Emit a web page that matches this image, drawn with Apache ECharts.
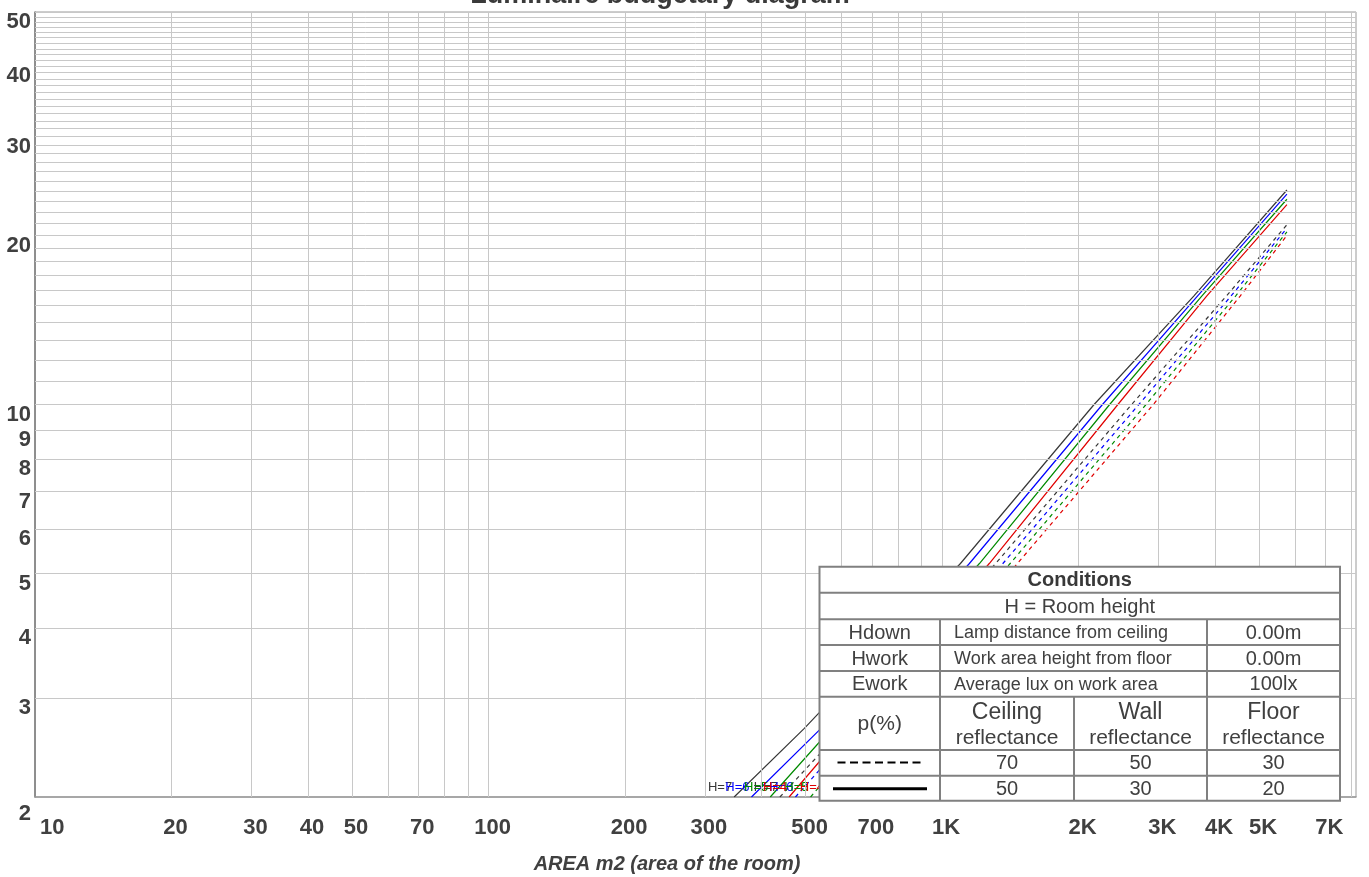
<!DOCTYPE html>
<html>
<head>
<meta charset="utf-8">
<script src="https://cdn.jsdelivr.net/npm/echarts@6/dist/echarts.min.js"></script>
<style>html,body{margin:0;padding:0;background:#fff}#c{width:1369px;height:877px}</style>
</head>
<body>
<div id="c"></div>
<script>
// ---------------- data ----------------
const chartTitle = 'Luminaire budgetary diagram';
const xAxisName = 'AREA m2 (area of the room)';
const xMin = 10, xMax = 8180, yMin = 2, yMax = 50;

const xTickValues = [10, 20, 30, 40, 50, 70, 100, 200, 300, 500, 700, 1000, 2000, 3000, 4000, 5000, 7000];
const xTickLabels = ['10', '20', '30', '40', '50', '70', '100', '200', '300', '500', '700', '1K', '2K', '3K', '4K', '5K', '7K'];
const yTickValues = [2, 3, 4, 5, 6, 7, 8, 9, 10, 20, 30, 40, 50];
const yTickLabels = ['2', '3', '4', '5', '6', '7', '8', '9', '10', '20', '30', '40', '50'];

const xGridValues = [20, 30, 40, 50, 60, 70, 80, 90, 100, 200, 300, 400, 500, 600, 700, 800, 900, 1000, 2000, 3000, 4000, 5000, 6000, 7000, 8000];
const yGridValues = [3, 4, 5, 6, 7, 8, 9, 10, 11, 12, 13, 14, 15, 16, 17, 18, 19, 20, 21, 22, 23, 24, 25, 26, 27, 28, 29, 30,
  31, 32, 33, 34, 35, 36, 37, 38, 39, 40, 41, 42, 43, 44, 45, 46, 47, 48, 49, 50];

const heightNames = ['H=7', 'H=6', 'H=5', 'H=4'];

// solid: reflectance 50/30/20 ; dashed: reflectance 70/50/30   [area m2, value]
const solid_H7 = [[348, 2], [497, 2.65], [1098, 5.21], [2164, 10], [3589, 15.6], [5760, 24.1]];
const solid_H6 = [[380, 2], [541, 2.65], [1149, 5.21], [2258, 10], [3657, 15.6], [5760, 23.7]];
const solid_H5 = [[418, 2], [1209, 5.21], [2342, 10], [3738, 15.6], [5760, 23.2]];
const solid_H4 = [[460, 2], [1271, 5.21], [2442, 10], [3832, 15.6], [5760, 22.7]];
const dashed_H7 = [[439, 2], [1313, 5.21], [2618, 10], [4236, 15.6], [5760, 20.9]];
const dashed_H6 = [[475, 2], [1362, 5.21], [2716, 10], [4336, 15.6], [5760, 20.6]];
const dashed_H5 = [[513, 2], [1413, 5.21], [2817, 10], [4438, 15.6], [5760, 20.3]];
const dashed_H4 = [[555, 2], [1466, 5.21], [2923, 10], [4543, 15.6], [5760, 20.0]];

const tableTitle = 'Conditions';
const tableSubtitle = 'H = Room height';
const condKeys = ['Hdown', 'Hwork', 'Ework'];
const condDesc = ['Lamp distance from ceiling', 'Work area height from floor', 'Average lux on work area'];
const condValues = ['0.00m', '0.00m', '100lx'];
const reflHeader = ['p(%)', 'Ceiling', 'Wall', 'Floor'];
const reflDashed = ['70', '50', '30'];
const reflSolid = ['50', '30', '20'];

// ---------------- styles ----------------
const FONT = "'Liberation Sans', Arial, sans-serif";
const lineColors = ['#383838', '#0000ff', '#008a00', '#e00000'];
const TXT = '#404040';

function lineSeries(name, data, color, dashed) {
  return {
    type: 'line', name: name, animation: false, silent: true, z: 3,
    symbol: 'circle', symbolSize: 0, showSymbol: true,
    itemStyle: {color: color},
    lineStyle: {color: color, width: 1.2, type: dashed ? [4, 4] : 'solid'},
    data: data.map((p, i) => i === 0
      ? {value: p, label: {show: true, position: 'left', distance: 2, offset: [0, -10], formatter: name,
          color: color, fontSize: 13, fontFamily: FONT}}
      : {value: p})
  };
}

const solids = [solid_H7, solid_H6, solid_H5, solid_H4];
const dashes = [dashed_H7, dashed_H6, dashed_H5, dashed_H4];
const series = [];
series.push({
  type: 'line', data: [], silent: true, z: 1, animation: false,
  markLine: {
    silent: true, animation: false, symbol: ['none', 'none'], label: {show: false},
    lineStyle: {color: '#c8c8c8', width: 1, type: 'solid'},
    emphasis: {disabled: true},
    data: xGridValues.map(v => ({xAxis: v})).concat(yGridValues.map(v => ({yAxis: v})))
  }
});
dashes.forEach((d, i) => series.push(lineSeries(heightNames[i], d, lineColors[i], true)));
solids.forEach((d, i) => series.push(lineSeries(heightNames[i], d, lineColors[i], false)));

const option = {
  animation: false,
  backgroundColor: '#ffffff',
  grid: {left: 35, right: 13, top: 12, bottom: 80, show: true, borderColor: '#9a9a9a', borderWidth: 1, backgroundColor: 'transparent'},
  xAxis: {
    type: 'log', logBase: 10, min: xMin, max: xMax,
    axisLine: {show: true, lineStyle: {color: '#9a9a9a', width: 1.5}},
    axisTick: {show: false}, axisLabel: {show: false}, splitLine: {show: false}
  },
  yAxis: {
    type: 'log', logBase: 10, min: yMin, max: yMax,
    axisLine: {show: true, lineStyle: {color: '#7a7a7a', width: 1.5}},
    axisTick: {show: false}, axisLabel: {show: false}, splitLine: {show: false}
  },
  series: series
};

const chart = echarts.init(document.getElementById('c'), null, {renderer: 'canvas'});
chart.setOption(option);

// ---------------- text + table via graphic ----------------
function txt(x, y, text, size, opts) {
  opts = opts || {};
  const align = opts.align || 'center';
  const va = opts.va || 'middle';
  return {
    type: 'text', x: x, y: y, z: opts.z || 50, silent: true,
    style: {
      text: text, fill: opts.color || TXT,
      font: (opts.style || '') + ' ' + (opts.weight || 'normal') + ' ' + size + 'px ' + FONT,
      align: align, textAlign: align, verticalAlign: va, textVerticalAlign: va
    }
  };
}

const g = [];
// title (partly above the canvas)
g.push(txt(660, -4.5, chartTitle, 27, {weight: 'bold', color: '#3a3a3a'}));
// x tick labels
xTickValues.forEach((v, i) => {
  const p = chart.convertToPixel({gridIndex: 0}, [v, yMin]);
  if (i === 0) g.push(txt(p[0] + 5, 828, xTickLabels[i], 22, {weight: 'bold', align: 'left'}));
  else g.push(txt(p[0] + 4, 828, xTickLabels[i], 22, {weight: 'bold'}));
});
// y tick labels (lowest one pushed a little lower)
yTickValues.forEach((v, i) => {
  const p = chart.convertToPixel({gridIndex: 0}, [xMin, v]);
  const dy = i === 0 ? 6 : -1;
  g.push(txt(31, p[1] + dy, yTickLabels[i], 22, {weight: 'bold', align: 'right', va: 'top'}));
});
// axis name
g.push(txt(667, 864, xAxisName, 20, {weight: 'bold', style: 'italic'}));

// conditions table
const T = {l: 819.5, r: 1340, t: 566.7, b: 800.7};
const rowsY = [566.7, 592.7, 619.3, 645, 671, 696.7, 750, 775.7, 800.7];
const c1 = 940, c2 = 1074, c3 = 1207;
const tbl = [];
const stroke = '#808080';
tbl.push({type: 'rect', shape: {x: T.l, y: T.t, width: T.r - T.l, height: T.b - T.t},
  style: {fill: '#ffffff', stroke: stroke, lineWidth: 2}});
function hl(y) { tbl.push({type: 'line', shape: {x1: T.l, y1: y, x2: T.r, y2: y}, style: {stroke: stroke, lineWidth: 2}}); }
function vl(x, y1, y2) { tbl.push({type: 'line', shape: {x1: x, y1: y1, x2: x, y2: y2}, style: {stroke: stroke, lineWidth: 2}}); }
for (let i = 1; i < rowsY.length - 1; i++) hl(rowsY[i]);
vl(c1, rowsY[2], T.b); vl(c3, rowsY[2], T.b); vl(c2, rowsY[5], T.b);
const mid = i => (rowsY[i] + rowsY[i + 1]) / 2 + 1;
const cx0 = (T.l + c1) / 2, cxA = (c1 + c2) / 2, cxB = (c2 + c3) / 2, cxC = (c3 + T.r) / 2;
tbl.push(txt((T.l + T.r) / 2, mid(0), tableTitle, 20, {weight: 'bold', color: '#383838'}));
tbl.push(txt((T.l + T.r) / 2, mid(1), tableSubtitle, 20));
for (let k = 0; k < 3; k++) {
  tbl.push(txt(cx0, mid(2 + k), condKeys[k], 20));
  tbl.push(txt(954, mid(2 + k), condDesc[k], 18, {align: 'left'}));
  tbl.push(txt(cxC, mid(2 + k), condValues[k], 20));
}
tbl.push(txt(cx0, mid(5), reflHeader[0], 21));
[cxA, cxB, cxC].forEach((x, j) => {
  tbl.push(txt(x, 712.7, reflHeader[j + 1], 23));
  tbl.push(txt(x, 738.3, 'reflectance', 21));
  tbl.push(txt(x, mid(6), reflDashed[j], 20));
  tbl.push(txt(x, mid(7), reflSolid[j], 20));
});
tbl.push({type: 'line', shape: {x1: 837.5, y1: 762.5, x2: 924, y2: 762.5}, style: {stroke: '#000', lineWidth: 2, lineDash: [8, 4.5]}});
tbl.push({type: 'line', shape: {x1: 833, y1: 788.7, x2: 927, y2: 788.7}, style: {stroke: '#000', lineWidth: 3}});
g.push({type: 'group', x: 0, y: 0, z: 100, children: tbl.map(e => Object.assign(e, {z: 100, silent: true}))});

chart.setOption({graphic: g});
</script>
</body>
</html>
